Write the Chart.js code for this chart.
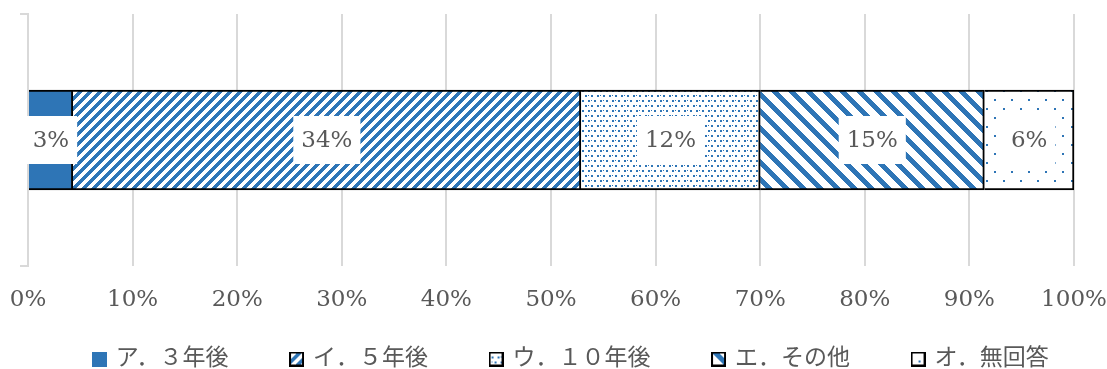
<!DOCTYPE html>
<html lang="ja">
<head>
<meta charset="utf-8">
<script src="https://cdn.jsdelivr.net/npm/chart.js@4.4.0/dist/chart.umd.min.js"></script>
<style>
  html, body { margin: 0; padding: 0; background: #fff; }
  #wrap { width: 1107px; height: 369px; }
</style>
</head>
<body>
<div id="wrap"><canvas id="answer_chart"></canvas></div>
<script>
// DATA
const categories = [''];
const series_names = ['ア．３年後', 'イ．５年後', 'ウ．１０年後', 'エ．その他', 'オ．無回答'];
const series_values = [[3], [34], [12], [15], [6]];
const tick_labels = ['0%', '10%', '20%', '30%', '40%', '50%', '60%', '70%', '80%', '90%', '100%'];

const BLUE = '#2E75B6';
const TEXT = '#595959';
const GRID = '#d9d9d9';
const SERIF = '"DejaVu Serif", "Liberation Serif", serif';
const LEGEND_FONT = '"Liberation Serif", "Noto Sans CJK JP", serif';

// PATTERN TILES

function makeTile(w, h, draw) {
  const c = document.createElement('canvas');
  c.width = w;
  c.height = h;
  const t = c.getContext('2d');
  t.fillStyle = '#fff';
  t.fillRect(0, 0, w, h);
  t.fillStyle = BLUE;
  draw(t, w, h);
  return c;
}

// wide upward diagonal
const tile_up = makeTile(10, 10, (t, w) => {
  for (let r = 0; r < w; r++) {
    for (let k = 0; k < 5; k++) t.fillRect((w - 1 - r + k) % w, r, 1, 1);
  }
});
// small dots
const tile_dots = makeTile(12, 10, (t) => {
  t.fillRect(0, 0, 2, 2);
  t.fillRect(6, 0, 2, 2);
  t.fillRect(3, 5, 2, 2);
  t.fillRect(9, 5, 2, 2);
  t.fillRect(3, 0, 1, 1);
  t.fillRect(0, 5, 1, 1);
});
// wide downward diagonal
const tile_down = makeTile(17, 17, (t, w) => {
  for (let r = 0; r < w; r++) {
    for (let k = 0; k < 7; k++) t.fillRect((r + k) % w, r, 1, 1);
  }
});
// sparse dots
const tile_sparse = makeTile(17, 18, (t) => {
  t.fillRect(0, 0, 2, 2);
  t.fillRect(8, 9, 2, 2);
});

const ctx = document.getElementById('answer_chart').getContext('2d');
const tiles = [null, tile_up, tile_dots, tile_down, tile_sparse];
const fills = tiles.map((t) => (t ? ctx.createPattern(t, 'repeat') : BLUE));

// legend markers
const markers = tiles.map((tile) => {
  const c = document.createElement('canvas');
  c.width = 15;
  c.height = 15;
  const m = c.getContext('2d');
  if (!tile) {
    m.fillStyle = BLUE;
    m.fillRect(0, 0, 15, 15);
  } else {
    m.fillStyle = m.createPattern(tile, 'repeat');
    m.fillRect(0, 0, 15, 15);
    m.strokeStyle = '#000';
    m.lineWidth = 2;
    m.strokeRect(1, 1, 13, 13);
  }
  return c;
});

const total = series_values.reduce((s, v) => s + v[0], 0);

// value boxes in the middle of each segment
const barLabels = {
  id: 'barLabels',
  afterDatasetsDraw(chart) {
    const c = chart.ctx;
    c.save();
    c.font = '23px ' + SERIF;
    c.textAlign = 'center';
    c.textBaseline = 'middle';
    chart.data.datasets.forEach((ds, i) => {
      chart.getDatasetMeta(i).data.forEach((bar, j) => {
        const cx = (bar.x + bar.base) / 2;
        const text = ds.data[j] + '%';
        const w = c.measureText(text).width + 16;
        c.fillStyle = '#fff';
        c.fillRect(cx - w / 2, bar.y - 24, w, 48);
        c.fillStyle = TEXT;
        c.fillText(text, cx, bar.y + 1);
      });
    });
    c.restore();
  }
};

// legend sits lower and a little right of centre in the original
const legendShift = {
  id: 'legendShift',
  afterLayout(chart) {
    const lg = chart.legend;
    lg.left += 18;
    lg.right += 18;
    lg.top = 284.5;
    lg.height = lg.bottom - lg.top;
  }
};

new Chart(ctx, {
  type: 'bar',
  data: {
    labels: categories,
    datasets: series_names.map((name, i) => ({
      label: name,
      data: series_values[i],
      backgroundColor: fills[i],
      borderColor: '#000',
      borderWidth: 2,
      barThickness: 100,
    })),
  },
  options: {
    indexAxis: 'y',
    responsive: true,
    maintainAspectRatio: false,
    animation: false,
    layout: { padding: { top: 14, right: 0, left: 0, bottom: 0 } },
    scales: {
      x: {
        stacked: true,
        min: 0,
        max: total,
        ticks: {
          stepSize: total / 10,
          color: TEXT,
          font: { family: SERIF, size: 23 },
          padding: 20,
          maxRotation: 0,
          autoSkip: false,
          callback: (v, i) => tick_labels[i],
        },
        grid: { color: GRID, lineWidth: 2, drawTicks: false },
        border: { display: false },
        afterFit: (s) => {
          s.height = 53;
          s.paddingLeft = 0;
          s.paddingRight = 33;
        },
      },
      y: {
        stacked: true,
        ticks: { display: false },
        grid: { offset: true, drawOnChartArea: false, color: GRID, lineWidth: 2, tickLength: 8 },
        border: { display: true, color: GRID, width: 2 },
        afterFit: (s) => { s.width = 28; },
      },
    },
    plugins: {
      tooltip: { enabled: false },
      legend: {
        position: 'bottom',
        maxHeight: 50,
        labels: {
          usePointStyle: true,
          boxWidth: 10,
          padding: 63,
          color: TEXT,
          font: { family: LEGEND_FONT, size: 23 },
          generateLabels(chart) {
            const items = Chart.defaults.plugins.legend.labels.generateLabels(chart);
            items.forEach((it, i) => { it.pointStyle = markers[i]; });
            return items;
          },
        },
      },
    },
  },
  plugins: [barLabels, legendShift],
});
</script>
</body>
</html>
